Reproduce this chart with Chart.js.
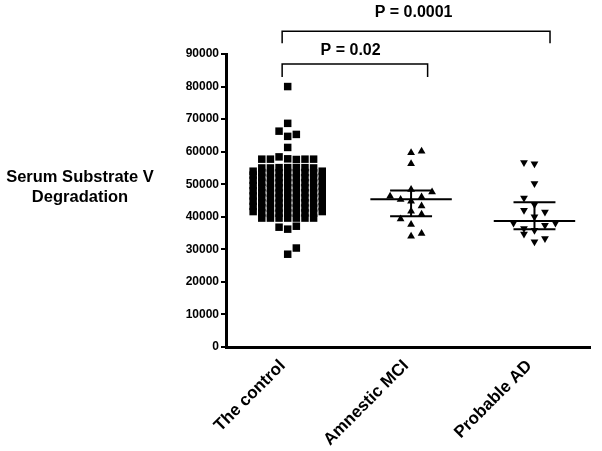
<!DOCTYPE html>
<html><head><meta charset="utf-8">
<script src="https://cdn.jsdelivr.net/npm/chart.js@4"></script>
<style>html,body{margin:0;padding:0;background:#fff;}#wrap{width:602px;height:451px;position:relative;}</style>
</head><body><div id="wrap"><canvas id="c"></canvas></div>
<script>
// ---- data ----
const categories = ['The control', 'Amnestic MCI', 'Probable AD'];
const yTickValues = [0, 10000, 20000, 30000, 40000, 50000, 60000, 70000, 80000, 90000];

// control group: values grouped in the scatter columns (column index -4..4)
const controlColumnIndex = [-4, -3, -2, -1, 0, 1, 2, 3, 4];
const controlColumns = [
  [41600, 43200, 44800, 46400, 48000, 49600, 51200, 52800, 54000],
  [39600, 41200, 42800, 44300, 45900, 47400, 49000, 50600, 52100, 53600, 55000, 57700],
  [39600, 41000, 42600, 44100, 45700, 47200, 48800, 50300, 51900, 53400, 55000, 57700],
  [36800, 39600, 41100, 42700, 44200, 45800, 47300, 48900, 50400, 52000, 53500, 55100, 58400, 66300],
  [28500, 36200, 39600, 41200, 42700, 44300, 45800, 47400, 48900, 50500, 52000, 53600, 55100, 57800, 61300, 64700, 68700, 80000],
  [30400, 37100, 39600, 41100, 42700, 44200, 45800, 47300, 48900, 50400, 52000, 53500, 55100, 57600, 65300],
  [39600, 41200, 42700, 44300, 45800, 47400, 48900, 50500, 52000, 53600, 55100, 57700],
  [39600, 41100, 42700, 44200, 45800, 47300, 48900, 50400, 52000, 53500, 55000, 57700],
  [41600, 43100, 44700, 46200, 47800, 49300, 50900, 52400, 54000]
];
const mciValues = [59700, 60100, 56300, 48400, 47600, 46300, 45300, 44800, 46100, 43300, 41700, 40800, 39300, 37600, 34000, 34900];
const mciColumn = [0, 1, 0, 0, 2, -2, -1, 0, 1, 1, 0, 1, -1, 0, 0, 1];
const adValues = [56700, 56300, 50200, 45800, 43800, 42000, 41500, 40000, 38100, 38100, 37400, 36400, 35900, 34700, 33300, 32300];
const adColumn = [-1, 0, 0, -1, 0, -1, 1, 0, -2, 2, 1, -1, 0, -1, 1, 0];

// mean and error bar for MCI and AD (control's are hidden under its points)
const groupMeans = [null, 45400, 38700];
const groupErrUpper = [null, 48100, 44500];
const groupErrLower = [null, 40200, 36200];

const bracketLeft = [-0.045, -0.045];
const bracketRight = [1.134, 2.126];
const bracketTop = [86900, 97000];
const bracketLegEnd = [82900, 93300];
const pLabels = ['P = 0.02', 'P = 0.0001'];
const pLabelX = [0.51, 1.02];
const pLabelY = [90900, 102800];

const yTitleLines = ['Serum Substrate V', 'Degradation'];

// ---- build ----
const CTRL_STEP = 0.07, GRP_STEP = 0.085;
const controlData = [];
controlColumns.forEach((col, i) => col.forEach(v => controlData.push({x: 0 + controlColumnIndex[i] * CTRL_STEP, y: v})));
const mciData = mciValues.map((v, i) => ({x: 1 + mciColumn[i] * GRP_STEP, y: v}));
const adData = adValues.map((v, i) => ({x: 2 + adColumn[i] * GRP_STEP, y: v}));

const FONT = 'Arial, "Liberation Sans", sans-serif';

const annot = {
  id: 'annot',
  beforeDatasetsDraw(chart) {
    const {ctx, scales: {x, y}} = chart;
    ctx.save();
    ctx.strokeStyle = '#000';
    ctx.lineWidth = 2;
    groupMeans.forEach((m, i) => {
      if (m === null) return;
      const cx = x.getPixelForValue(i);
      const half = x.getPixelForValue(i + 0.33) - cx;
      const cap = x.getPixelForValue(i + 0.17) - cx;
      const ym = y.getPixelForValue(m), yu = y.getPixelForValue(groupErrUpper[i]), yl = y.getPixelForValue(groupErrLower[i]);
      ctx.beginPath();
      ctx.moveTo(cx - half, ym); ctx.lineTo(cx + half, ym);
      ctx.moveTo(cx - cap, yu); ctx.lineTo(cx + cap, yu);
      ctx.moveTo(cx - cap, yl); ctx.lineTo(cx + cap, yl);
      ctx.moveTo(cx, yu); ctx.lineTo(cx, yl);
      ctx.stroke();
    });
    ctx.restore();
  },
  afterDraw(chart) {
    const {ctx, scales: {x, y}} = chart;
    ctx.save();
    ctx.strokeStyle = '#000';
    ctx.lineWidth = 1.5;
    bracketLeft.forEach((l, i) => {
      const x0 = x.getPixelForValue(l), x1 = x.getPixelForValue(bracketRight[i]);
      const yt = y.getPixelForValue(bracketTop[i]), yb = y.getPixelForValue(bracketLegEnd[i]);
      ctx.beginPath();
      ctx.moveTo(x0, yb); ctx.lineTo(x0, yt); ctx.lineTo(x1, yt); ctx.lineTo(x1, yb);
      ctx.stroke();
    });
    ctx.fillStyle = '#000';
    ctx.font = 'bold 16px ' + FONT;
    ctx.textAlign = 'center';
    ctx.textBaseline = 'middle';
    pLabels.forEach((t, i) => ctx.fillText(t, x.getPixelForValue(pLabelX[i]), y.getPixelForValue(pLabelY[i])));
    // y axis title (horizontal, left of axis)
    ctx.font = 'bold 16.5px ' + FONT;
    const tx = chart.chartArea.left - 146;
    const ty = y.getPixelForValue(52000);
    ctx.fillText(yTitleLines[0], tx, ty);
    ctx.fillText(yTitleLines[1], tx, ty + 20);
    ctx.restore();
  }
};

new Chart(document.getElementById('c'), {
  type: 'scatter',
  data: {
    datasets: [
      {data: controlData, pointStyle: 'rect', pointRadius: 5.3, backgroundColor: '#000', borderWidth: 0},
      {data: mciData, pointStyle: 'triangle', pointRadius: 4.5, backgroundColor: '#000', borderWidth: 0},
      {data: adData, pointStyle: 'triangle', rotation: 180, pointRadius: 4.5, backgroundColor: '#000', borderWidth: 0}
    ]
  },
  options: {
    responsive: true,
    maintainAspectRatio: false,
    animation: false,
    events: [],
    layout: {padding: {top: 54, left: 185, right: 12, bottom: 0}},
    plugins: {legend: {display: false}, tooltip: {enabled: false}},
    scales: {
      x: {
        type: 'linear', min: -0.5, max: 2.45,
        afterBuildTicks: s => { s.ticks = categories.map((c, i) => ({value: i})); },
        afterFit: s => { s.height = 104; },
        ticks: {
          autoSkip: false, minRotation: 45, maxRotation: 45, padding: 9, labelOffset: -5,
          color: '#000', font: {family: FONT, size: 17, weight: 'bold'},
          callback: v => categories[v]
        },
        grid: {display: false, drawTicks: false},
        border: {display: true, color: '#000', width: 3}
      },
      y: {
        min: 0, max: 90000,
        afterBuildTicks: s => { s.ticks = yTickValues.map(v => ({value: v})); },
        afterFit: s => { s.width = 41; },
        ticks: {color: '#000', padding: 2, font: {family: FONT, size: 12, weight: 'bold'}, callback: v => String(v)},
        grid: {display: true, drawOnChartArea: false, drawTicks: true, tickLength: 5, color: '#000', lineWidth: 2},
        border: {display: true, color: '#000', width: 3}
      }
    }
  },
  plugins: [annot]
});
</script>
</body></html>
